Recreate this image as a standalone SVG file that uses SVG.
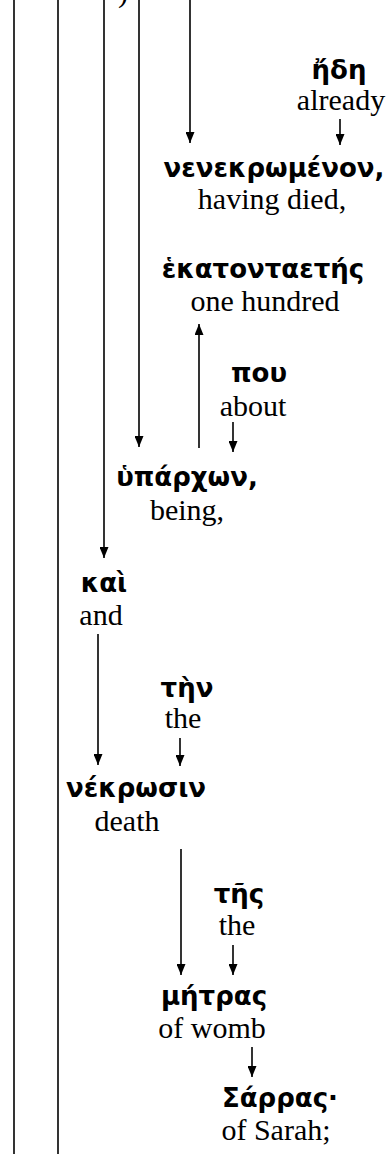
<svg xmlns="http://www.w3.org/2000/svg" width="390" height="1154" viewBox="0 0 390 1154">
<style>
.g{font-family:"DejaVu Sans",sans-serif;font-weight:bold;font-size:26px;fill:#000;text-anchor:middle}
.e{font-family:"Liberation Serif",serif;font-size:30px;fill:#000;text-anchor:middle}
.c line{stroke:#000;stroke-width:1.6}
</style>
<defs>
<marker id="ah" markerUnits="userSpaceOnUse" viewBox="0 0 11 9" markerWidth="11" markerHeight="9" refX="11" refY="4.5" orient="auto">
<path d="M0,0 L11,4.5 L0,9 z" fill="#000"/>
</marker>
</defs>
<text class="e" x="118" y="2" style="text-anchor:start">)</text>
<g class="c" id="connectors">
<line x1="14" y1="0" x2="14" y2="1154"/>
<line x1="58" y1="0" x2="58" y2="1154"/>
<line x1="104" y1="0" x2="104" y2="558" marker-end="url(#ah)"/>
<line x1="139" y1="0" x2="139" y2="447" marker-end="url(#ah)"/>
<line x1="190" y1="0" x2="190" y2="143" marker-end="url(#ah)"/>
<line x1="340" y1="119" x2="340" y2="145" marker-end="url(#ah)"/>
<line x1="199" y1="448" x2="199" y2="324" marker-end="url(#ah)"/>
<line x1="233" y1="422" x2="233" y2="452" marker-end="url(#ah)"/>
<line x1="98" y1="634" x2="98" y2="765" marker-end="url(#ah)"/>
<line x1="180" y1="738" x2="180" y2="766" marker-end="url(#ah)"/>
<line x1="181" y1="849" x2="181" y2="975" marker-end="url(#ah)"/>
<line x1="233" y1="945" x2="233" y2="975" marker-end="url(#ah)"/>
<line x1="252" y1="1047" x2="252" y2="1077" marker-end="url(#ah)"/>
</g>
<g id="n-ede"><text class="g" x="339" y="79">ἤδη</text><text class="e" x="341" y="110">already</text></g>
<g id="n-nenekromenon"><text class="g" x="274" y="177">νενεκρωμένον,</text><text class="e" x="272" y="209">having died,</text></g>
<g id="n-hekatontaetes"><text class="g" x="263" y="278">ἑκατονταετής</text><text class="e" x="265" y="311">one hundred</text></g>
<g id="n-pou"><text class="g" x="259" y="382">που</text><text class="e" x="253" y="416">about</text></g>
<g id="n-hyparchon"><text class="g" x="187" y="486">ὑπάρχων,</text><text class="e" x="187" y="520">being,</text></g>
<g id="n-kai"><text class="g" x="104" y="592">καὶ</text><text class="e" x="101" y="625">and</text></g>
<g id="n-ten"><text class="g" x="187" y="697">τὴν</text><text class="e" x="183" y="728">the</text></g>
<g id="n-nekrosin"><text class="g" x="136" y="797">νέκρωσιν</text><text class="e" x="127" y="831">death</text></g>
<g id="n-tes"><text class="g" x="239" y="903">τῆς</text><text class="e" x="237" y="935">the</text></g>
<g id="n-metras"><text class="g" x="214" y="1005">μήτρας</text><text class="e" x="212" y="1038">of womb</text></g>
<g id="n-sarras"><text class="g" x="280" y="1107">Σάρρας·</text><text class="e" x="276" y="1140">of Sarah;</text></g>
</svg>
